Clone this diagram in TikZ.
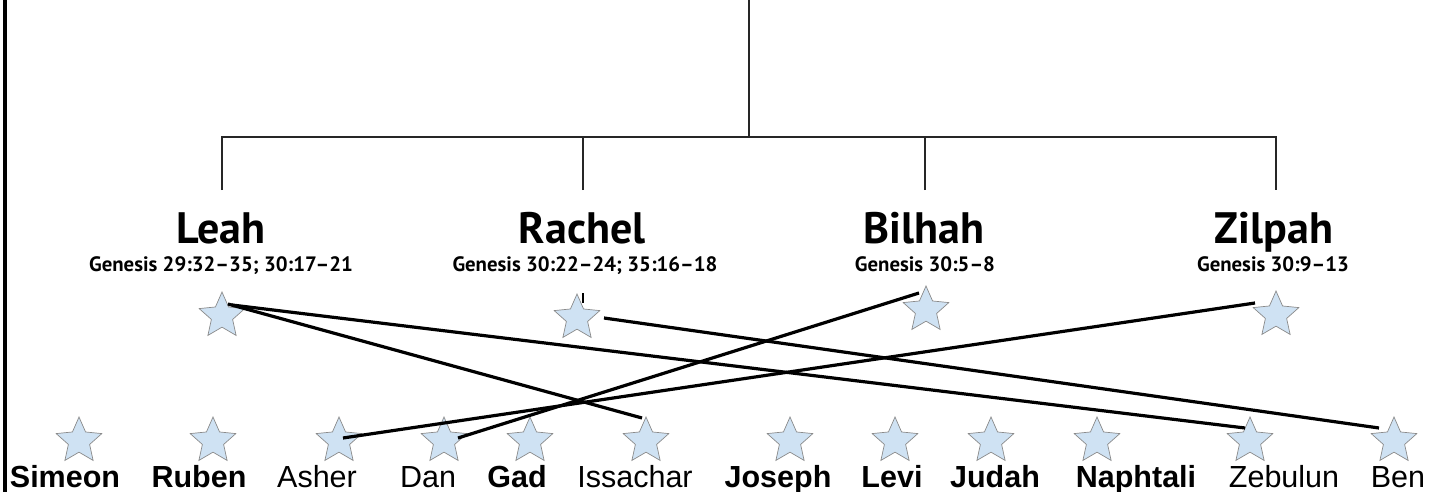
\documentclass[tikz,border=0pt]{standalone}
\usepackage{fontspec}
\setmainfont{Liberation Sans}
\newfontfamily\titlefont{PT Sans}
\usetikzlibrary{shapes.geometric,calc}
\definecolor{starblue}{HTML}{CFE2F3}
\definecolor{stargray}{HTML}{8A8A8A}
\begin{document}
\begin{tikzpicture}[x=1pt,y=-1pt,
  starnode/.style={star, star points=5, star point ratio=2.15, minimum size=48pt, inner sep=0pt, draw=stargray, fill=starblue, line width=0.7pt},
  link/.style={line width=3.2pt, black},
  tree/.style={line width=1.8pt, black!85},
  mother/.style={anchor=base, inner sep=0pt, font=\titlefont\bfseries\fontsize{44}{44}\selectfont},
  verse/.style={anchor=base, inner sep=0pt, font=\titlefont\bfseries\fontsize{20.8}{20.8}\selectfont},
  son/.style={anchor=base, inner sep=0pt, font=\fontsize{30.5}{30.5}\selectfont},
  bson/.style={son, font=\bfseries\fontsize{30.5}{30.5}\selectfont}]
\useasboundingbox (0,0) rectangle (1442,492);
% left border
\draw[line width=4pt] (5.3,-2) -- (5.3,494);
% tree
\coordinate (top) at (749,-2);
\coordinate (hub) at (749,137);
\coordinate (dL) at (222,190);
\coordinate (dR) at (583,190);
\coordinate (dB) at (925,190);
\coordinate (dZ) at (1276,190);
\draw[tree] (top) -- (hub);
\draw[tree] (dL) |- (hub) -| (dZ);
\draw[tree] (dR) -- (dR |- hub);
\draw[tree] (dB) -- (dB |- hub);
% mothers
\node[mother] (tLeah) at (221,243) {Leah};
\node[verse] (vLeah) at (221,271) {Genesis 29:32–35; 30:17–21};
\node[mother] (tRachel) at (582,243) {Rachel};
\node[verse] (vRachel) at (585,271) {Genesis 30:22–24; 35:16–18};
\node[mother] (tBilhah) at (924,243) {Bilhah};
\node[verse] (vBilhah) at (925,271) {Genesis 30:5–8};
\node[mother] (tZilpah) at (1274,243) {Zilpah};
\node[verse] (vZilpah) at (1273,271) {Genesis 30:9–13};
% mother stars
\node[starnode] (leah) at (222,316) {};
\node[starnode] (rachel) at (577,318) {};
\node[starnode] (bilhah) at (926,310) {};
\node[starnode] (zilpah) at (1276,315) {};
\coordinate (tickA) at (583,293);
\coordinate (tickB) at (583,303);
\draw[line width=1.2pt] (tickA) -- (tickB);
% son stars
\node[starnode] (simeon) at (79,441) {};
\node[starnode] (ruben) at (213,441) {};
\node[starnode] (asher) at (339,441) {};
\node[starnode] (dan) at (444,441) {};
\node[starnode] (gad) at (530,441) {};
\node[starnode] (issachar) at (646,441) {};
\node[starnode] (joseph) at (790,441) {};
\node[starnode] (levi) at (895,441) {};
\node[starnode] (judah) at (991,441) {};
\node[starnode] (naphtali) at (1097,441) {};
\node[starnode] (zebulun) at (1250,441) {};
\node[starnode] (ben) at (1394,441) {};
% son names
\node[bson] (nSimeon) at (65,487) {Simeon};
\node[bson] (nRuben) at (199,487) {Ruben};
\node[son] (nAsher) at (317,487) {Asher};
\node[son] (nDan) at (428,487) {Dan};
\node[bson] (nGad) at (517,487) {Gad};
\node[son] (nIssachar) at (635,487) {Issachar};
\node[bson] (nJoseph) at (778,487) {Joseph};
\node[bson] (nLevi) at (892,487) {Levi};
\node[bson] (nJudah) at (995,487) {Judah};
\node[bson] (nNaphtali) at (1136,487) {Naphtali};
\node[son] (nZebulun) at (1284,487) {Zebulun};
\node[son] (nBen) at (1398,487) {Ben};
% links
\draw[link] ($(leah)+(6,-12)$) -- ($(issachar)+(-4,-23)$);
\draw[link] ($(leah)+(10,-11)$) -- ($(zebulun)+(-5,-13)$);
\draw[link] ($(rachel)+(27,0)$) -- ($(ben)+(-15,-13)$);
\draw[link] ($(bilhah)+(-7,-17)$) -- ($(dan)+(14,-3)$);
\draw[link] ($(zilpah)+(-21,-12)$) -- ($(asher)+(4,-3)$);
\end{tikzpicture}
\end{document}
